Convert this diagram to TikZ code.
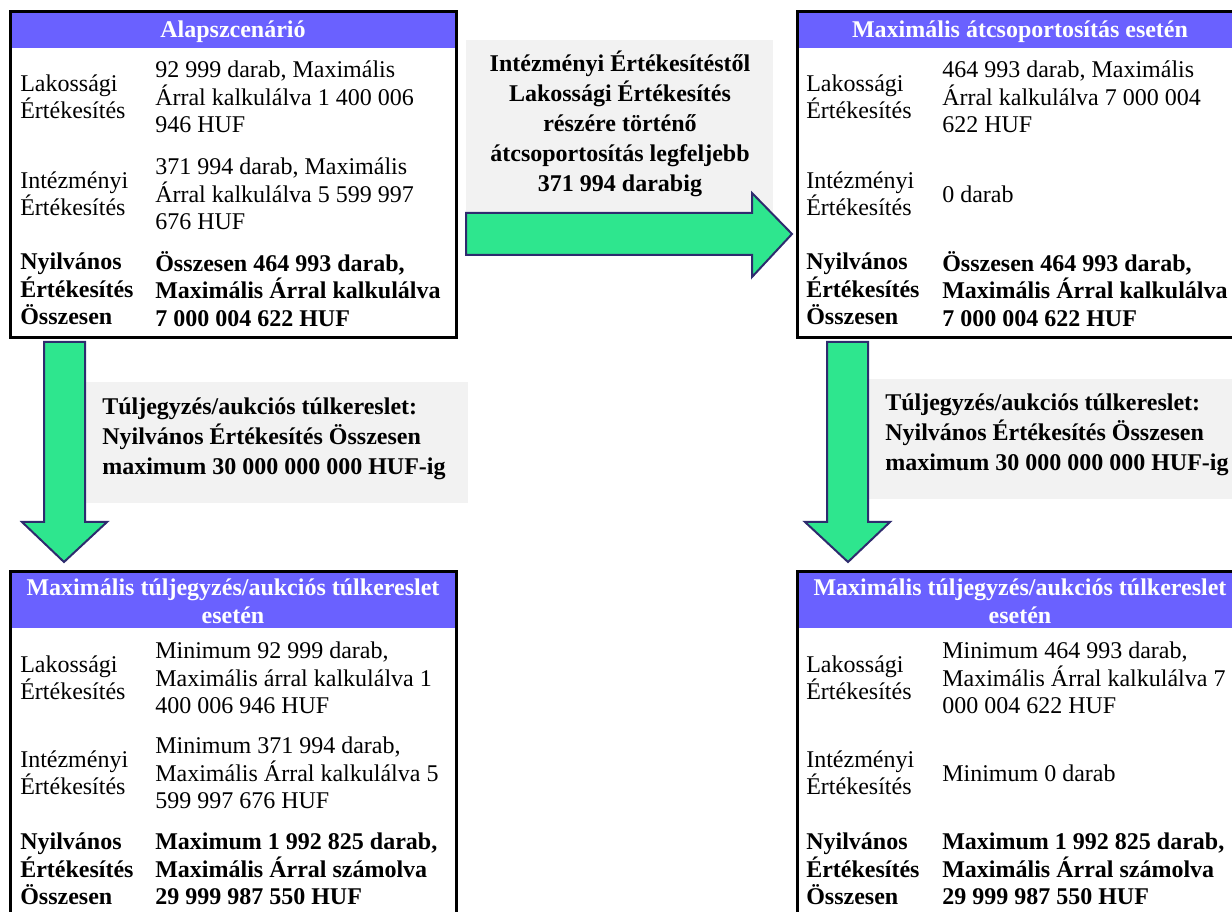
\documentclass[tikz,border=0pt]{standalone}
\usepackage{fontspec}
\setmainfont{Liberation Serif}
\definecolor{headblue}{HTML}{6A61FF}
\definecolor{arrowgreen}{HTML}{2EE68E}
\definecolor{arrowline}{HTML}{2E2B6E}
\definecolor{notegray}{HTML}{F2F2F2}

\begin{document}
\begin{tikzpicture}[x=0.75pt,y=-0.75pt,
    every node/.style={inner sep=0pt,font=\fontsize{18}{20.5}\selectfont},
    rowname/.style={anchor=west,align=left},
    rowtext/.style={anchor=west,align=left},
    rowbold/.style={font=\fontsize{18}{20.5}\selectfont\bfseries},
    headtext/.style={text=white,align=center,font=\fontsize{18}{21}\selectfont\bfseries},
    notetext/.style={font=\fontsize{18}{22.5}\selectfont\bfseries},
    bigarrow/.style={fill=arrowgreen,draw=arrowline,line width=1.5pt,line join=miter}]
      \useasboundingbox (0,0) rectangle (1232,912);
      \clip (0,0) rectangle (1232,912);

      % header bands
      \fill [headblue] (10,12) rectangle (456,48);
      \fill [headblue] (797,12) rectangle (1243,48);
      \fill [headblue] (10,572) rectangle (456,628);
      \fill [headblue] (797,572) rectangle (1243,628);

      % frames
      \draw [line width=2.25pt] (10,12) rectangle (456,338);
      \draw [line width=2.25pt] (797,12) rectangle (1243,338);
      \draw [line width=2.25pt] (10,572) rectangle (456,930);
      \draw [line width=2.25pt] (797,572) rectangle (1243,930);

      % grey notes
      \fill [notegray] (466,40) rectangle (773,230);
      \fill [notegray] (85,382) rectangle (468,503);
      \fill [notegray] (868,379) rectangle (1240,499);

      % arrows
      \draw [bigarrow]
      (466,213) -- (752,213) -- (752,193) -- (792,234) -- (752,277) -- (752,255) -- (466,255) -- cycle;
      \draw [bigarrow]
      (44,342) -- (85,342) -- (85,522) -- (107,522) -- (64,562) -- (22,522) -- (44,522) -- cycle;
      \draw [bigarrow]
      (827,342) -- (868,342) -- (868,522) -- (890,522) -- (848,562) -- (805,522) -- (827,522) -- cycle;

      % base scenario
      \node (alap) at (233,32) [headtext] {Alapszcenárió};
      \node (alapLak) at (20,97) [rowname] {Lakossági\\Értékesítés};
      \node (alapLakTxt) at (155,97) [rowtext] {92 999 darab, Maximális\\Árral kalkulálva 1 400 006\\946 HUF};
      \node (alapInt) at (20,194) [rowname] {Intézményi\\Értékesítés};
      \node (alapIntTxt) at (155,194) [rowtext] {371 994 darab, Maximális\\Árral kalkulálva 5 599 997\\676 HUF};
      \node (alapOssz) at (20,289) [rowname,rowbold] {Nyilvános\\Értékesítés\\Összesen};
      \node (alapOsszTxt) at (155,289) [rowtext,rowbold] {Összesen 464 993 darab,\\Maximális Árral kalkulálva\\7 000 004 622 HUF};

      % regrouping
      \node (atcs) at (1020,32) [headtext] {Maximális átcsoportosítás esetén};
      \node (atcsLak) at (806,97) [rowname] {Lakossági\\Értékesítés};
      \node (atcsLakTxt) at (942,97) [rowtext] {464 993 darab, Maximális\\Árral kalkulálva 7 000 004\\622 HUF};
      \node (atcsInt) at (806,194) [rowname] {Intézményi\\Értékesítés};
      \node (atcsIntTxt) at (942,194) [rowtext] {0 darab};
      \node (atcsOssz) at (806,289) [rowname,rowbold] {Nyilvános\\Értékesítés\\Összesen};
      \node (atcsOsszTxt) at (942,289) [rowtext,rowbold] {Összesen 464 993 darab,\\Maximális Árral kalkulálva\\7 000 004 622 HUF};

      % oversubscription, left
      \node (tulA) at (233,601) [headtext] {Maximális túljegyzés/aukciós túlkereslet\\esetén};
      \node (tulALak) at (20,678) [rowname] {Lakossági\\Értékesítés};
      \node (tulALakTxt) at (155,678) [rowtext] {Minimum 92 999 darab,\\Maximális árral kalkulálva 1\\400 006 946 HUF};
      \node (tulAInt) at (20,773) [rowname] {Intézményi\\Értékesítés};
      \node (tulAIntTxt) at (155,773) [rowtext] {Minimum 371 994 darab,\\Maximális Árral kalkulálva 5\\599 997 676 HUF};
      \node (tulAOssz) at (20,869) [rowname,rowbold] {Nyilvános\\Értékesítés\\Összesen};
      \node (tulAOsszTxt) at (155,869) [rowtext,rowbold] {Maximum 1 992 825 darab,\\Maximális Árral számolva\\29 999 987 550 HUF};

      % oversubscription, right
      \node (tulB) at (1020,601) [headtext] {Maximális túljegyzés/aukciós túlkereslet\\esetén};
      \node (tulBLak) at (806,678) [rowname] {Lakossági\\Értékesítés};
      \node (tulBLakTxt) at (942,678) [rowtext] {Minimum 464 993 darab,\\Maximális Árral kalkulálva 7\\000 004 622 HUF};
      \node (tulBInt) at (806,773) [rowname] {Intézményi\\Értékesítés};
      \node (tulBIntTxt) at (942,773) [rowtext] {Minimum 0 darab};
      \node (tulBOssz) at (806,869) [rowname,rowbold] {Nyilvános\\Értékesítés\\Összesen};
      \node (tulBOsszTxt) at (942,869) [rowtext,rowbold] {Maximum 1 992 825 darab,\\Maximális Árral számolva\\29 999 987 550 HUF};

      % notes
      \node (atcsNote) at (620,124) [notetext,align=center] {Intézményi Értékesítéstől\\Lakossági Értékesítés\\részére történő\\átcsoportosítás legfeljebb\\371 994 darabig};
      \node (tulANote) at (102,439) [notetext,anchor=west,align=left] {Túljegyzés/aukciós túlkereslet:\\Nyilvános Értékesítés Összesen\\maximum 30 000 000 000 HUF-ig};
      \node (tulBNote) at (885,435) [notetext,anchor=west,align=left] {Túljegyzés/aukciós túlkereslet:\\Nyilvános Értékesítés Összesen\\maximum 30 000 000 000 HUF-ig};
\end{tikzpicture}
\end{document}
